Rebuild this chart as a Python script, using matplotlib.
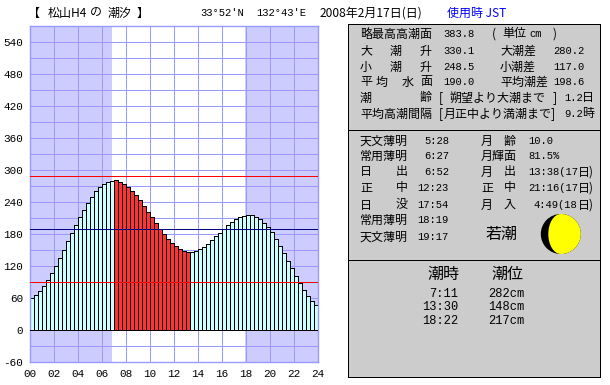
# coding=UTF-8
import matplotlib
matplotlib.use("Agg")
import matplotlib.pyplot as plt
from matplotlib.patches import Rectangle, Circle, Ellipse, Wedge

JP = ['Noto Sans CJK JP', 'DejaVu Sans']
MONO = ['Liberation Mono', 'DejaVu Sans Mono']

# tide level every 20 minutes (cm)
tide = [60, 66, 73, 82, 94, 107, 120, 135, 150, 167, 182, 197,
        212, 225, 238, 249, 261, 268, 274, 277, 279, 281, 277, 274,
        268, 261, 253, 244, 232, 221, 212, 200, 189, 180, 171, 163,
        157, 152, 148, 146, 146, 148, 152, 156, 161, 169, 176, 182,
        189, 197, 202, 208, 212, 214, 216, 216, 212, 208, 200, 193,
        184, 171, 157, 144, 129, 116, 101, 88, 75, 64, 54, 47]
ebb_start = 21   # 7:00
ebb_end = 40     # 13:20

sunrise = 6.87
sunset = 17.95
high_line = 288
low_line = 90
mean_line = 189

y_ticks = list(range(-60, 541, 60))
x_ticks = list(range(0, 25, 2))
x_labels = ["%02d" % h for h in x_ticks]

title_main = [("【", 28), ("松山H4", 48), ("の", 90), ("潮汐", 108), ("】", 137)]
title_lat = "33°52'N"
title_lon = "132°43'E"
title_date = "2008年2月17日(日)"
title_zone = "使用時 JST"

# text, x, y
panel1_labels = [
    ("略最高高潮面", 360, 34), ("(", 492, 34), ("単位", 502, 34), (")", 553, 34),
    ("大", 360, 51), ("潮", 390, 51), ("升", 420, 51), ("大潮差", 500, 51),
    ("小", 360, 67), ("潮", 390, 67), ("升", 420, 67), ("小潮差", 500, 67),
    ("平", 360, 82), ("均", 376, 82), ("水", 402, 82), ("面", 420, 82), ("平均潮差", 500, 82),
    ("潮", 360, 98), ("齢", 420, 98), ("[", 439, 98), ("朔望より大潮まで", 450, 98), ("]", 553, 98), ("日", 582, 98),
    ("平均高潮間隔", 360, 114), ("[", 439, 114), ("月正中より満潮まで", 444, 114), ("]", 551, 114), ("時", 582, 114),
]
panel1_values = [
    ("cm", 529, 34),
    ("383.8", 443, 34), ("330.1", 443, 51), ("280.2", 553, 51),
    ("248.5", 443, 67), ("117.0", 553, 67), ("190.0", 443, 82),
    ("198.6", 553, 82), ("1.2", 564, 98), ("9.2", 564, 114),
]
panel2_labels = [
    ("天文薄明", 360, 141), ("常用薄明", 360, 156),
    ("日", 360, 172), ("出", 396, 172), ("正", 360, 188), ("中", 396, 188),
    ("日", 360, 205), ("没", 396, 205), ("常用薄明", 360, 220), ("天文薄明", 360, 237),
    ("月", 481, 141), ("齢", 504, 141), ("月輝面", 481, 156),
    ("月", 481, 172), ("出", 504, 172), ("正", 481, 188), ("中", 504, 188),
    ("月", 481, 205), ("入", 504, 205),
    ("日)", 578, 172), ("日)", 578, 188), ("日)", 578, 205),
]
sun_times = ["5:28", "6:27", "6:52", "12:23", "17:54", "18:19", "19:17"]
sun_rows = [141, 156, 172, 188, 205, 220, 237]
moon_values = [("10.0", 528, 141), ("81.5%", 528, 156), ("13:38(17", 528, 172),
               ("21:16(17", 528, 188), ("4:49(18", 534, 205)]
tide_name = "若潮"
extreme_times = ["7:11", "13:30", "18:22"]
extreme_levels = ["282cm", "148cm", "217cm"]
extreme_rows = [294, 307, 321]

fig = plt.figure(figsize=(6.1, 3.85), dpi=100, facecolor="white")

# tide chart
ax = fig.add_axes([30 / 610, 1 - 362 / 385, 288 / 610, 336 / 385])
ax.set_xlim(0, 24)
ax.set_ylim(-60, 570)
ax.axvspan(0, sunrise, color="#ccccff", lw=0, zorder=0)
ax.axvspan(sunset, 24, color="#ccccff", lw=0, zorder=0)
for h in range(0, 25, 2):
    ax.axvline(h, color="#9999ff", lw=0.72, zorder=1, antialiased=False)
for v in range(-60, 571, 30):
    ax.axhline(v, color="#9999ff", lw=0.72, zorder=1, antialiased=False)

for i, v in enumerate(tide):
    c = "#ff3333" if ebb_start <= i < ebb_end else "#ccffff"
    ax.bar(i / 3, v, width=1 / 3, align="edge", color=c, edgecolor="black",
           linewidth=0.72, zorder=2, antialiased=False)
ax.axhline(0, color="black", lw=0.72, zorder=3, antialiased=False)
ax.axhline(high_line, color="#ff0000", lw=0.72, zorder=4, antialiased=False)
ax.axhline(low_line, color="#ff0000", lw=0.72, zorder=4, antialiased=False)
ax.axhline(mean_line, color="#000080", lw=0.72, zorder=4, antialiased=False)

ax.set_xticks(x_ticks)
ax.set_xticklabels(x_labels, family=MONO, fontsize=7.9)
ax.set_yticks(y_ticks)
ax.set_yticklabels([str(v) for v in y_ticks], family=MONO, fontsize=7.9)
ax.tick_params(length=0, pad=5)
for s in ax.spines.values():
    s.set_color("#9999ff")
    s.set_linewidth(1)

# everything else is placed in pixel coordinates
ov = fig.add_axes([0, 0, 1, 1])
ov.set_xlim(0, 610)
ov.set_ylim(385, 0)
ov.axis("off")


def jp(x, y, s, size=12, color="black", **kw):
    ov.text(x, y, s, family=JP, fontsize=size * 0.72, color=color, va="center", **kw)


def mono(x, y, s, size=10.5, color="black", **kw):
    ov.text(x, y, s, family=MONO, fontsize=size * 0.72, color=color, va="center", **kw)


for s, x in title_main:
    jp(x, 13, s)
mono(200, 13, title_lat)
mono(256, 13, title_lon)
jp(320, 13, title_date)
jp(447, 13, title_zone, color="#0000ff")

for top, bottom in [(24, 130), (130, 260), (260, 377)]:
    ov.add_patch(Rectangle((348, top), 252, bottom - top, facecolor="#cccccc",
                           edgecolor="black", lw=0.72, antialiased=False))

for s, x, y in panel1_labels + panel2_labels:
    jp(x, y, s)
for s, x, y in panel1_values + moon_values:
    mono(x, y, s)
for s, y in zip(sun_times, sun_rows):
    mono(449, y, s, ha="right")

jp(501, 234, tide_name, size=16, ha="center")

# moon phase
ov.add_patch(Circle((560.8, 234), 20, color="black", lw=0))
ov.add_patch(Wedge((560.8, 234), 20, -90, 90, color="#ffff00", lw=0))
ov.add_patch(Ellipse((560.8, 234), 25, 40, color="#ffff00", lw=0))

jp(443, 274, "潮時", size=16, ha="center")
jp(507, 274, "潮位", size=16, ha="center")
for t, lv, y in zip(extreme_times, extreme_levels, extreme_rows):
    mono(458, y, t, size=12, ha="right")
    mono(488, y, lv, size=12)

fig.savefig("out.png", dpi=100)
